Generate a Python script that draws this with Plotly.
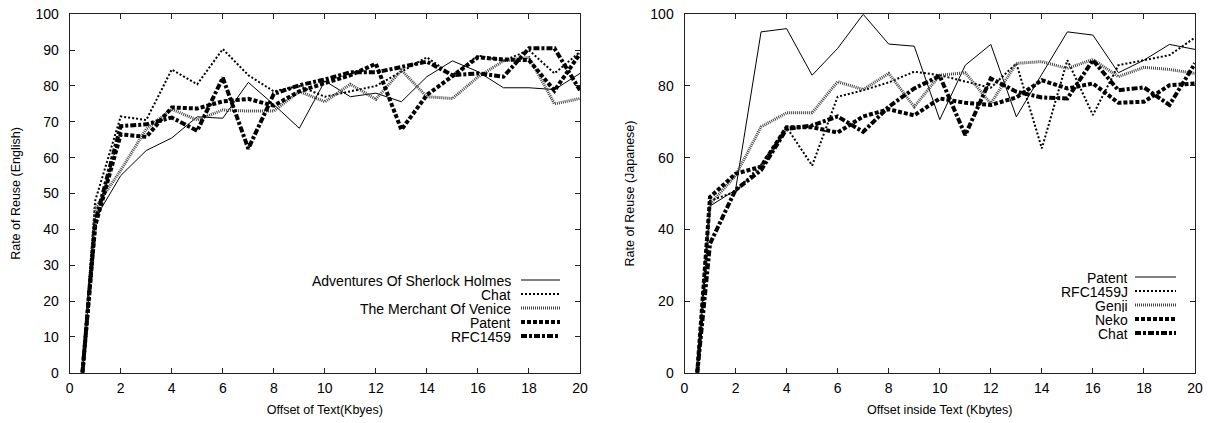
import plotly.graph_objects as go
from plotly.subplots import make_subplots

W, H = 1208, 423

# ---------------- data ----------------
x_vals = [0.5, 1, 2, 3, 4, 5, 6, 7, 8, 9, 10, 11, 12, 13, 14, 15, 16, 17, 18, 19, 20]

# English (left)
sherlock = [0, 43, 55, 62, 65.5, 71.4, 71, 81, 74.8, 68.2, 81.4, 77, 78, 75.6, 82.6, 87, 84, 79.5, 79.5, 79, 83.5]
chat_en = [0, 48, 71.5, 70.5, 84.6, 80.5, 90.3, 83, 78.5, 80, 77, 78.5, 80, 84, 88, 83, 88.5, 87, 90, 83.5, 89.5]
merchant = [0, 46, 56.5, 68, 73.5, 70.5, 73.3, 73, 73, 78.5, 75.6, 80.5, 76.3, 84.4, 77, 76.5, 82.5, 87, 88, 75, 76.5]
patent_en = [0, 41, 66.5, 65.8, 74, 73.7, 75.7, 76.4, 74.5, 78.5, 80.8, 83, 86.2, 67.8, 77.5, 82.6, 88, 87.4, 87.2, 78.7, 89]
rfc1459 = [0, 42, 68.8, 69.3, 71.2, 67.5, 82.3, 62.5, 77.8, 80.2, 81.8, 83.8, 83.8, 85.2, 86.8, 83, 83.5, 82.6, 90.5, 90.5, 78.8]

# Japanese (right)
patent_ja = [0, 46.5, 51, 95.1, 96, 83, 90.5, 100, 91.7, 91.1, 70.6, 85.8, 91.6, 71.4, 83.3, 95.1, 94.2, 83.7, 87.2, 91.6, 90.2]
rfc1459j = [0, 48, 50.5, 58, 68.5, 57.8, 77, 78.8, 81, 84, 83, 81.2, 79.5, 86.3, 62.6, 87.2, 71.9, 85.8, 87.2, 88.6, 93.5]
genji = [0, 47, 55, 68.6, 72.5, 72.5, 81.2, 79, 83.5, 74.2, 83, 83.7, 75.1, 86.3, 86.8, 84.9, 87.4, 82.6, 85.2, 84.6, 83.5]
neko = [0, 49, 55.5, 57.5, 68.5, 68.5, 67, 71.5, 73.5, 71.8, 76.5, 75.3, 74.7, 76.8, 81.6, 79.3, 80.7, 75.3, 75.6, 80.2, 80.7]
chat_ja = [0, 36, 51, 56.5, 68, 69, 71.5, 67.2, 74.2, 79.3, 82.8, 66.3, 82.1, 78.4, 76.8, 76.5, 87.2, 78.8, 79.6, 74.7, 86.3]

left_names = ["Adventures Of Sherlock Holmes", "Chat", "The Merchant Of Venice", "Patent", "RFC1459"]
left_series = [sherlock, chat_en, merchant, patent_en, rfc1459]
right_names = ["Patent", "RFC1459J", "Genji", "Neko", "Chat"]
right_series = [patent_ja, rfc1459j, genji, neko, chat_ja]

x_ticks = [0, 2, 4, 6, 8, 10, 12, 14, 16, 18, 20]
y_ticks_left = [0, 10, 20, 30, 40, 50, 60, 70, 80, 90, 100]
y_ticks_right = [0, 20, 40, 60, 80, 100]

# ---------------- styles ----------------
styles = [
    dict(color="black", width=1, dash="solid"),
    dict(color="black", width=2, dash="2px,2px"),
    dict(color="#444", width=3, dash="1px,1px"),
    dict(color="black", width=4, dash="4px,2px"),
    dict(color="black", width=4, dash="6px,2px,3px,2px"),
]

FONT = "Liberation Sans, Arial, Helvetica, sans-serif"

fig = make_subplots(rows=1, cols=2)

for names, series, col in [(left_names, left_series, 1), (right_names, right_series, 2)]:
    for name, ys, st in zip(names, series, styles):
        fig.add_trace(go.Scatter(x=x_vals, y=ys, mode="lines", name=name,
                                 line=dict(color=st["color"], width=st["width"], dash=st["dash"]),
                                 showlegend=False), row=1, col=col)

def px2fx(p):
    return p / W

def py2fy(p):
    return 1 - p / H

xdom1 = [px2fx(69.7), px2fx(580)]
xdom2 = [px2fx(684.5), px2fx(1195)]
ydom = [py2fy(372.7), py2fy(14.3)]

axis_common = dict(showline=True, linecolor="#222", linewidth=1, mirror="ticks",
                   ticks="inside", ticklen=5, tickcolor="#222", showgrid=False, zeroline=False,
                   automargin=False, ticklabeloverflow="allow",
                   tickfont=dict(family=FONT, size=14, color="black"))

TFONT = dict(family=FONT, size=12.5, color="black")
fig.update_xaxes(**axis_common, ticklabelstandoff=2)
fig.update_yaxes(**axis_common, ticklabelstandoff=7)
fig.update_layout(
    xaxis=dict(domain=xdom1, range=[0, 20], tickvals=x_ticks,
               title=dict(text="Offset of Text(Kbyes)", font=TFONT, standoff=10)),
    xaxis2=dict(domain=xdom2, range=[0, 20], tickvals=x_ticks,
                title=dict(text="Offset inside Text (Kbytes)", font=TFONT, standoff=10)),
    yaxis=dict(domain=ydom, range=[0, 100], tickvals=y_ticks_left,
               title=dict(text="Rate of Reuse (English)", font=TFONT, standoff=12)),
    yaxis2=dict(domain=ydom, range=[0, 100], tickvals=y_ticks_right,
                title=dict(text="Rate of Reuse (Japanese)", font=TFONT, standoff=12)),
    width=W, height=H,
    margin=dict(l=0, r=0, t=0, b=0, autoexpand=False),
    plot_bgcolor="white", paper_bgcolor="white",
    font=dict(family=FONT, color="black"),
)

# custom gnuplot-style keys (text then sample)
def add_key(names, text_right, s_x0, s_x1, rows):
    for name, st, yrow in zip(names, styles, rows):
        fig.add_annotation(x=px2fx(text_right), y=py2fy(yrow), xref="paper", yref="paper",
                           text=name, showarrow=False, xanchor="right", yanchor="middle",
                           height=13, valign="middle",
                           borderpad=0, font=dict(family=FONT, size=14, color="black"))
        fig.add_shape(type="line", xref="paper", yref="paper",
                      x0=px2fx(s_x0), x1=px2fx(s_x1), y0=py2fy(yrow), y1=py2fy(yrow),
                      line=dict(color=st["color"], width=st["width"], dash=st["dash"]))

add_key(left_names, 512, 521, 560, [280, 294, 308, 322, 336])
add_key(right_names, 1129, 1135, 1176, [277, 291, 305, 319, 333])

fig.write_html("out.html", config={"displayModeBar": False},
               post_script="document.body.style.margin='0';document.body.style.overflow='hidden';")
